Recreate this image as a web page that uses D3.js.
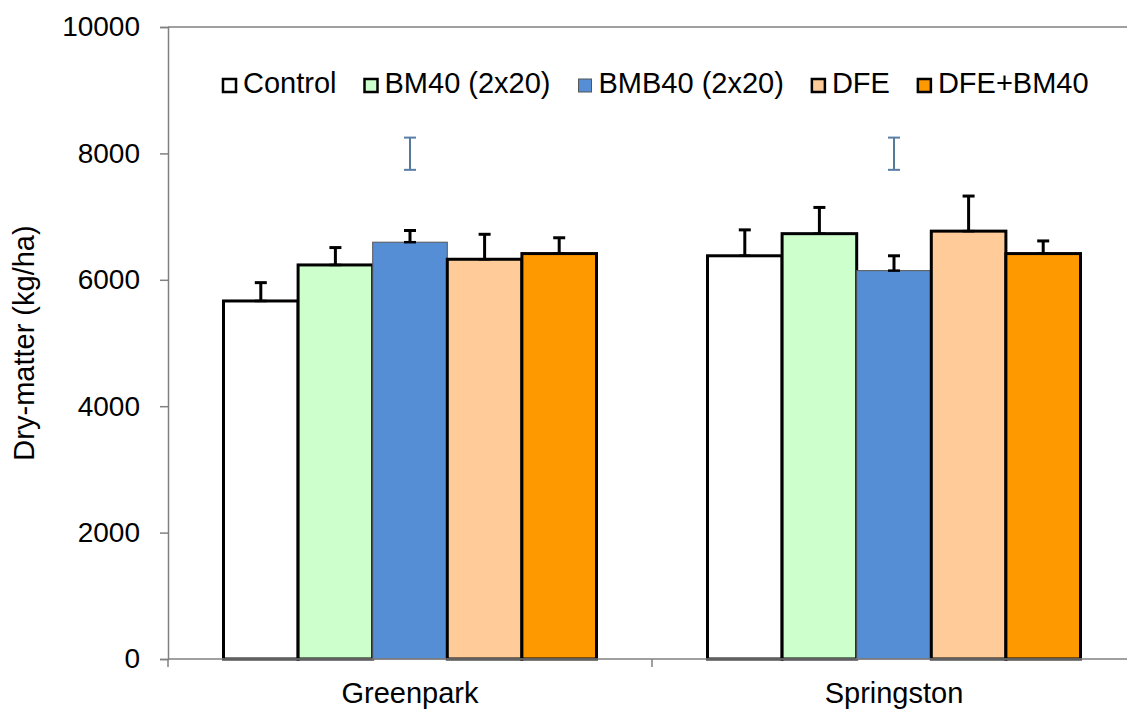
<!DOCTYPE html>
<html>
<head>
<meta charset="utf-8">
<script src="https://cdn.jsdelivr.net/npm/d3@7"></script>
<style>
  body { margin: 0; background: #fff; }
  text { font-family: 'Liberation Sans', Arial, sans-serif; fill: #000; }
</style>
</head>
<body>
<script>
const sites = ['Greenpark', 'Springston']
const treatments = ['Control', 'BM40 (2x20)', 'BMB40 (2x20)', 'DFE', 'DFE+BM40']
const colors = ['#ffffff', '#ccffcc', '#558ed5', '#ffcc99', '#ff9900']

// dry matter means, per site
const greenpark = [5665, 6235, 6595, 6325, 6415]
const springston = [6380, 6730, 6145, 6770, 6415]
// standard error (plus only)
const greenparkErr = [290, 275, 185, 395, 250]
const springstonErr = [410, 415, 235, 555, 200]
// LSD bars
const lsdCentre = [7995, 7995]
const lsdHalf = [255, 255]

const yTicks = [0, 2000, 4000, 6000, 8000, 10000]

const width = 1127
const height = 709
const margin = { top: 27, left: 168, bottom: 50 }
const plotRight = 1136

const svg = d3.select('body').append('svg')
  .attr('width', width)
  .attr('height', height)

const yScale = d3.scaleLinear()
  .domain([0, 10000])
  .range([height - margin.bottom, margin.top])

const xScale = d3.scaleBand()
  .domain(sites)
  .range([margin.left, plotRight])

const xInner = d3.scaleBand()
  .domain(treatments)
  .range([0, xScale.bandwidth()])
  .paddingOuter(0.744)

const values = [greenpark, springston]
const errs = [greenparkErr, springstonErr]

// plot frame (top line, right side runs off the picture)
svg.append('path')
  .attr('d', `M${margin.left},${yScale(10000)}H${plotRight}V${yScale(0)}`)
  .attr('fill', 'none')
  .attr('stroke', '#808080')
  .attr('stroke-width', 1.5)

// bars
sites.forEach((site, i) => {
  const g = svg.append('g')
    .attr('transform', `translate(${xScale(site)},0)`)

  g.selectAll('rect')
    .data(values[i])
    .join('rect')
    .attr('x', (d, j) => xInner(treatments[j]))
    .attr('y', d => yScale(d))
    .attr('width', xInner.bandwidth())
    .attr('height', d => yScale(0) - yScale(d))
    .attr('fill', (d, j) => colors[j])
    .attr('stroke', (d, j) => j === 2 ? '#555' : '#000')
    .attr('stroke-width', (d, j) => j === 2 ? 1 : 3)

  const eb = g.selectAll('.err')
    .data(values[i])
    .join('g')
    .attr('class', 'err')
    .attr('transform', (d, j) => `translate(${xInner(treatments[j]) + xInner.bandwidth() / 2},0)`)

  eb.append('line')
    .attr('y1', d => yScale(d))
    .attr('y2', (d, j) => yScale(d + errs[i][j]))
    .attr('stroke', '#000')
    .attr('stroke-width', 3)
  eb.append('line')
    .attr('x1', -6).attr('x2', 6)
    .attr('y1', (d, j) => yScale(d + errs[i][j]))
    .attr('y2', (d, j) => yScale(d + errs[i][j]))
    .attr('stroke', '#000')
    .attr('stroke-width', 3)
  eb.append('line')
    .attr('x1', -6).attr('x2', 6)
    .attr('y1', d => yScale(d))
    .attr('y2', d => yScale(d))
    .attr('stroke', '#000')
    .attr('stroke-width', 2.5)

  // LSD bar
  const cx = xScale.bandwidth() / 2
  const lsd = g.append('g').attr('transform', `translate(${cx},0)`)
  lsd.append('line')
    .attr('y1', yScale(lsdCentre[i] + lsdHalf[i]))
    .attr('y2', yScale(lsdCentre[i] - lsdHalf[i]))
    .attr('stroke', '#1f4e79')
    .attr('stroke-width', 1.5)
  ;[lsdCentre[i] + lsdHalf[i], lsdCentre[i] - lsdHalf[i]].forEach(v => {
    lsd.append('line')
      .attr('x1', -6).attr('x2', 6)
      .attr('y1', yScale(v)).attr('y2', yScale(v))
      .attr('stroke', '#5a7fa6')
      .attr('stroke-width', 2)
  })
})

// y axis
const yAxis = svg.append('g')
  .attr('transform', `translate(${margin.left},0)`)
  .call(d3.axisLeft(yScale).tickValues(yTicks).tickSize(8).tickPadding(20).tickFormat(d3.format('d')))
yAxis.select('.domain').attr('stroke', '#808080').attr('stroke-width', 1.5)
yAxis.selectAll('.tick line').attr('stroke', '#808080').attr('stroke-width', 1.5)
yAxis.selectAll('.tick text')
  .attr('font-size', 28)
  .attr('font-family', "'Liberation Sans', Arial, sans-serif")
  .attr('fill', '#000')

// x axis
const xAxisG = svg.append('g')
  .attr('transform', `translate(0,${yScale(0)})`)
xAxisG.append('line')
  .attr('x1', margin.left).attr('x2', plotRight)
  .attr('stroke', '#808080').attr('stroke-width', 1.5)
xAxisG.selectAll('.tk')
  .data([margin.left, ...sites.map(s => xScale(s) + xScale.bandwidth())])
  .join('line')
  .attr('x1', d => d).attr('x2', d => d)
  .attr('y1', 0).attr('y2', 8)
  .attr('stroke', '#808080').attr('stroke-width', 1.5)
xAxisG.selectAll('.lbl')
  .data(sites)
  .join('text')
  .attr('x', d => xScale(d) + xScale.bandwidth() / 2)
  .attr('y', 44)
  .attr('text-anchor', 'middle')
  .attr('font-size', 29)
  .text(d => d)

// y title
svg.append('text')
  .attr('transform', `translate(34,${(yScale(0) + yScale(10000)) / 2}) rotate(-90)`)
  .attr('text-anchor', 'middle')
  .attr('font-size', 29)
  .text('Dry-matter (kg/ha)')

// legend
const legend = svg.append('g').attr('transform', 'translate(222,93)')
let lx = 0
treatments.forEach((t, j) => {
  legend.append('rect')
    .attr('x', lx + 1)
    .attr('y', -14)
    .attr('width', 13)
    .attr('height', 13)
    .attr('fill', colors[j])
    .attr('stroke', j === 2 ? '#555' : '#000')
    .attr('stroke-width', j === 2 ? 1 : 2.5)
  const txt = legend.append('text')
    .attr('x', lx + 21)
    .attr('y', 0)
    .attr('font-size', 29)
    .text(t)
  lx += 21 + txt.node().getComputedTextLength() + 27
})
</script>
</body>
</html>
